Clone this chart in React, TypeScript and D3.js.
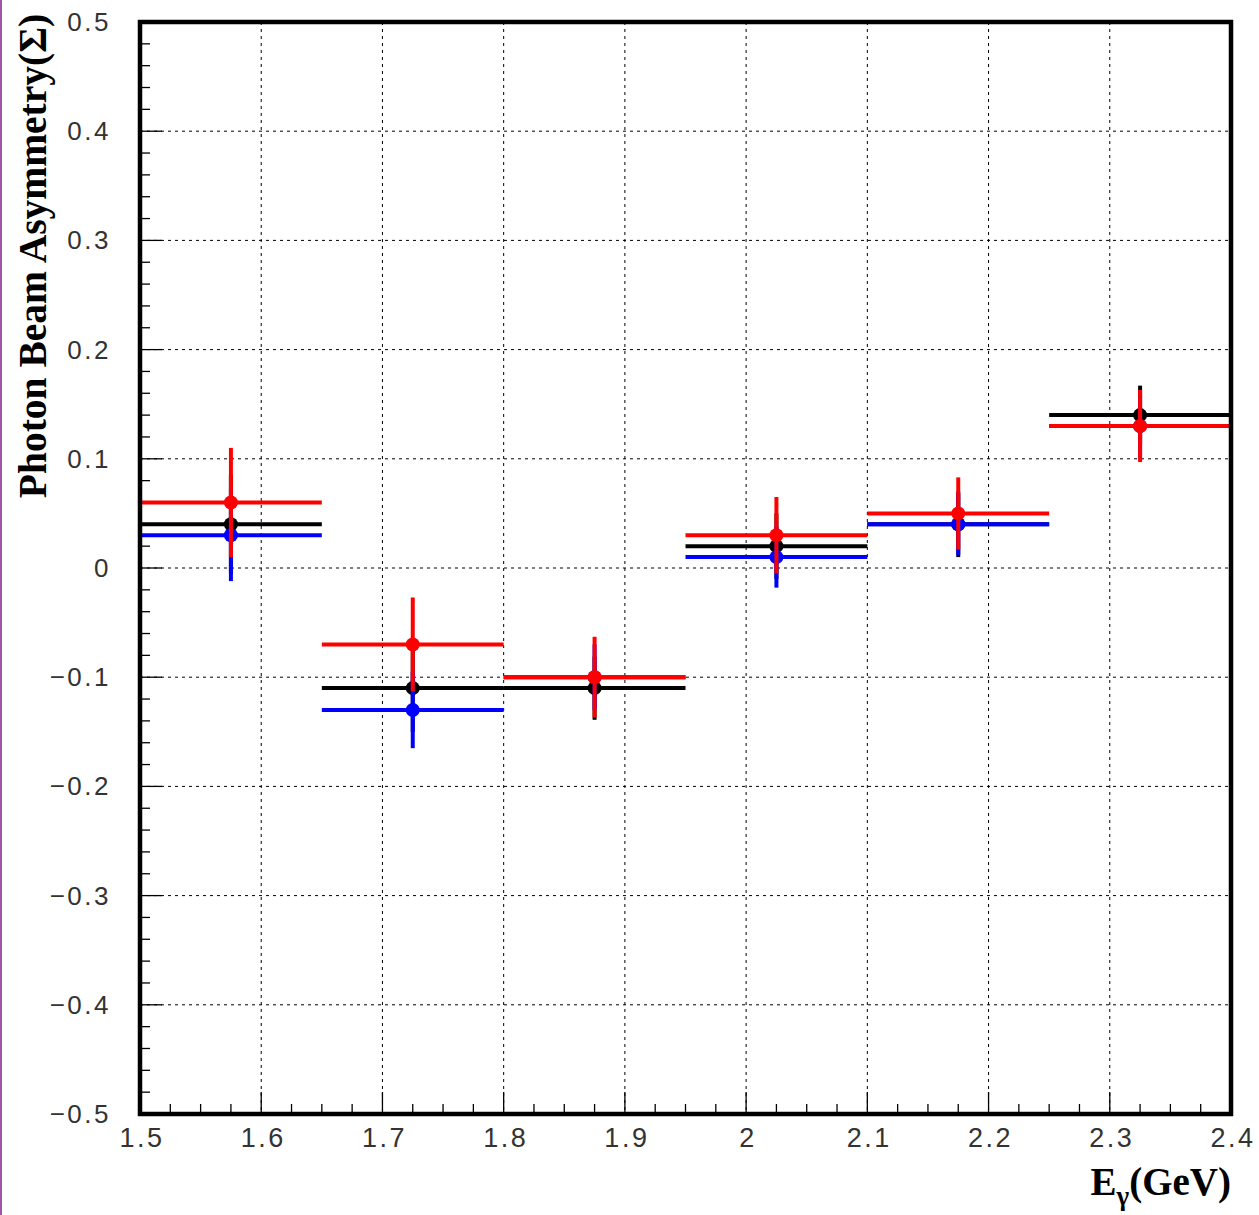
import React from "react";
import * as d3 from "d3";

const binLow = [1.5, 1.65, 1.8, 1.95, 2.1, 2.25];
const binHigh = [1.65, 1.8, 1.95, 2.1, 2.25, 2.4];
const binCenter = [1.575, 1.725, 1.875, 2.025, 2.175, 2.325];

const blackVal = [0.04, -0.11, -0.11, 0.02, 0.04, 0.14];
const blackErr = [0.045, 0.04, 0.029, 0.03, 0.03, 0.027];
const blueVal = [0.03, -0.13, -0.1, 0.01, 0.04, 0.13];
const blueErr = [0.042, 0.035, 0.03, 0.028, 0.028, 0.03];
const redVal = [0.06, -0.07, -0.1, 0.03, 0.05, 0.13];
const redErr = [0.05, 0.043, 0.037, 0.035, 0.033, 0.033];

const xTicks = [1.5, 1.6, 1.7, 1.8, 1.9, 2.0, 2.1, 2.2, 2.3, 2.4];
const yTicks = [0.5, 0.4, 0.3, 0.2, 0.1, 0, -0.1, -0.2, -0.3, -0.4, -0.5];

const series = [
  { name: "black", color: "#000000", v: blackVal, e: blackErr },
  { name: "blue", color: "#0000ff", v: blueVal, e: blueErr },
  { name: "red", color: "#ff0000", v: redVal, e: redErr },
];

export default function App() {
  const W = 1259, H = 1215;
  const L = 140, R = 1231, T = 22, B = 1114;
  const x = d3.scaleLinear().domain([1.5, 2.4]).range([L, R]);
  const y = d3.scaleLinear().domain([-0.5, 0.5]).range([B, T]);

  const xMinor = d3.range(0, 37).map((i) => 1.5 + i * 0.025);
  const yMinor = d3.range(0, 51).map((i) => -0.5 + i * 0.02);
  const fmt = (v: number) => {
    if (Math.abs(v) < 1e-9) return "0";
    const s = d3.format(".1f")(Math.abs(v));
    return (v < 0 ? "\u2212" : "") + s;
  };
  const fmtX = (v: number) => (Math.abs(v - 2) < 1e-9 ? "2" : d3.format(".1f")(v));

  const tickFont = "'Liberation Sans', Arial, sans-serif";

  return (
    <svg width={W} height={H} style={{ position: "absolute", left: 0, top: 0, background: "#fff" }}>
      <rect x={0} y={0} width={W} height={H} fill="#fff" />
      <rect x={0} y={0} width={2} height={H} fill="#a053a8" />
      {/* grid */}
      {xTicks.slice(1, -1).map((t) => (
        <line key={"gx" + t} x1={x(t)} x2={x(t)} y1={T} y2={B} stroke="#000" strokeWidth={1} strokeDasharray="3,4" />
      ))}
      {yTicks.slice(1, -1).map((t) => (
        <line key={"gy" + t} x1={L} x2={R} y1={y(t)} y2={y(t)} stroke="#000" strokeWidth={1} strokeDasharray="3,4" />
      ))}
      {/* minor ticks */}
      {xMinor.map((t, i) => (
        <line key={"xm" + i} x1={x(t)} x2={x(t)} y1={B} y2={B - (i % 4 === 0 ? 22 : 10)} stroke="#000" strokeWidth={1.3} />
      ))}
      {yMinor.map((t, i) => (
        <line key={"ym" + i} x1={L} x2={L + (i % 5 === 0 ? 22 : 10)} y1={y(t)} y2={y(t)} stroke="#000" strokeWidth={1.3} />
      ))}
      {/* data */}
      {series.map((s) => (
        <g key={s.name}>
          {binCenter.map((c, i) => (
            <g key={i}>
              <line x1={x(binLow[i])} x2={x(binHigh[i])} y1={y(s.v[i])} y2={y(s.v[i])} stroke={s.color} strokeWidth={4} />
              <line x1={x(c)} x2={x(c)} y1={y(s.v[i] - s.e[i])} y2={y(s.v[i] + s.e[i])} stroke={s.color} strokeWidth={4} />
              <circle cx={x(c)} cy={y(s.v[i])} r={7} fill={s.color} />
            </g>
          ))}
        </g>
      ))}
      {/* frame */}
      <rect x={L} y={T} width={R - L} height={B - T} fill="none" stroke="#000" strokeWidth={4.5} />
      {/* tick labels */}
      {yTicks.map((t) => (
        <text key={"yl" + t} x={111} y={y(t) + 9} textAnchor="end" fontFamily={tickFont} fontWeight={300} fontSize={26} letterSpacing={2.5} fill="#333">
          {fmt(t)}
        </text>
      ))}
      {xTicks.map((t) => (
        <text key={"xl" + t} x={x(t) + 2} y={1147} textAnchor="middle" fontFamily={tickFont} fontWeight={300} fontSize={27} letterSpacing={2.5} fill="#333">
          {fmtX(t)}
        </text>
      ))}
      {/* axis titles */}
      <text transform="translate(46,256) rotate(-90)" textAnchor="middle" fontFamily="'Liberation Serif', 'Times New Roman', serif" fontWeight="bold" fontSize={39.5} fill="#000">
        Photon Beam Asymmetry(Σ)
      </text>
      <text x={1231} y={1195} textAnchor="end" fontFamily="'Liberation Serif', 'Times New Roman', serif" fontWeight="bold" fontSize={39} fill="#000">
        E<tspan fontSize={27} dy={10}>γ</tspan><tspan dy={-10}>(GeV)</tspan>
      </text>
    </svg>
  );
}
